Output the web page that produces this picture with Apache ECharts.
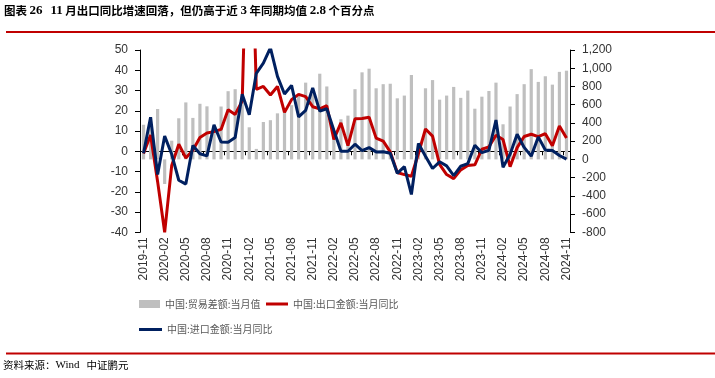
<!DOCTYPE html>
<html>
<head>
<meta charset="utf-8">
<script src="https://cdn.jsdelivr.net/npm/echarts@6/dist/echarts.min.js"></script>
<style>html,body{margin:0;padding:0;background:#fff;}#c{width:715px;height:378px;}</style>
</head>
<body>
<div id="c"></div>
<script>
// ---- data ----
const categories = [];
(function(){ let y=2019, m=11; for(let i=0;i<61;i++){ categories.push(y+'-'+(m<10?'0'+m:m)); m++; if(m>12){m=1;y++;} } })();

const tradeBalance = [380,465,553,-270,205,451,625,455,610,582,370,580,748,770,650,352,115,410,430,505,
  562,595,700,842,715,940,800,280,440,480,770,955,995,780,825,830,670,700,926,150,
  780,870,655,700,795,675,755,556,688,750,842,385,580,716,825,990,850,912,820,960,973];

const exportYoY = [-1.1,8.0,-15,-40.0,-7.0,3.5,-3.3,0.5,6.8,9.0,9.7,10.8,20.5,18.2,24.9,154.9,30.6,32.0,27.8,32.0,
  19.2,25.5,28.1,27.0,22.0,20.9,22.5,5.8,14.0,2.8,16.0,16.2,16.8,6.5,5.0,-0.3,-10.5,-11.5,-12.3,-1.1,
  11.0,7.5,-6.5,-11.5,-13.5,-9.2,-7.0,-6.7,1.0,2.2,7.9,5.8,-7.6,1.8,7.3,8.4,7.2,8.7,2.7,12.5,6.5];

const importYoY = [-1.0,16.8,-11.5,7.5,-1.5,-14.3,-16.2,2.8,-1.2,-2.3,13.0,4.6,4.5,6.8,28.2,18.0,38.5,43.5,51.1,37.0,
  28.3,32.5,17.0,20.2,31.3,19.8,21.0,10.4,0.0,0.0,3.5,0.3,1.8,-0.3,-0.2,-1.0,-10.9,-7.6,-21.3,3.8,
  -2.5,-8.5,-5.2,-7.2,-12.0,-7.4,-6.1,3.0,-0.7,0.5,15.4,-7.9,-1.5,8.4,1.9,-2.4,7.1,0.6,0.4,-2.1,-3.9];

const seriesNames = ['中国:贸易差额:当月值','中国:出口金额:当月同比','中国:进口金额:当月同比'];
const titleText = '{t|图表 }{n|26}{t|   }{n|11}{t| 月出口同比增速回落，但仍高于近 }{n|3}{t| 年同期均值 }{n|2.8}{t| 个百分点}';
const sourceText = '资料来源：{w|Wind}   中证鹏元';

// ---- chart ----
const chart = echarts.init(document.getElementById('c'), null, {renderer:'canvas'});
const axisFont = {fontFamily:'Liberation Sans', fontSize:12, color:'#333'};
function commas(v){ const s=String(Math.abs(v)); const r=s.replace(/\B(?=(\d{3})+(?!\d))/g, ','); return (v<0?'-':'')+r; }
const legendText = {fontFamily:'Noto Sans CJK SC', fontSize:10, color:'#595959'};

chart.setOption({
  animation:false,
  backgroundColor:'#fff',
  grid:{left:140, right:145, top:50, bottom:145.7, containLabel:false},
  legend:[
    {left:139, top:299, padding:0, itemWidth:21, itemHeight:8, itemGap:0, textStyle:legendText, data:[{name:seriesNames[0], icon:'rect'}], selectedMode:false},
    {left:266, top:299, padding:0, itemWidth:22, itemHeight:3, itemGap:0, textStyle:legendText, data:[{name:seriesNames[1], icon:'rect'}], selectedMode:false},
    {left:139, top:324.5, padding:0, itemWidth:23, itemHeight:3, itemGap:0, textStyle:legendText, data:[{name:seriesNames[2], icon:'rect'}], selectedMode:false}
  ],
  xAxis:[
    {type:'category', data:categories, boundaryGap:true, position:'bottom',
     axisLine:{show:false, onZero:false}, axisTick:{show:false},
     axisLabel:{interval:2, rotate:90, margin:5, fontFamily:'Liberation Sans', fontSize:12, color:'#333'},
     splitLine:{show:false}},
    {type:'category', data:categories, boundaryGap:true, position:'bottom',
     axisLine:{show:true, onZero:true, onZeroAxisIndex:0, lineStyle:{color:'#000', width:1}},
     axisTick:{show:true, interval:2, length:4, lineStyle:{color:'#000'}},
     axisLabel:{show:false}, splitLine:{show:false}}
  ],
  yAxis:[
    {type:'value', min:-40, max:50, interval:10, position:'left',
     axisLine:{show:true, lineStyle:{color:'#000', width:1}},
     axisTick:{show:true, length:5, lineStyle:{color:'#000'}},
     axisLabel:Object.assign({margin:12}, axisFont),
     splitLine:{show:false}},
    {type:'value', min:-800, max:1200, interval:200, position:'right',
     axisLine:{show:true, lineStyle:{color:'#000', width:1}},
     axisTick:{show:true, length:5, lineStyle:{color:'#000'}},
     axisLabel:Object.assign({margin:12, formatter:commas}, axisFont),
     splitLine:{show:false}}
  ],
  series:[
    {name:seriesNames[0], type:'bar', xAxisIndex:0, yAxisIndex:1, data:tradeBalance,
     barWidth:3.2, itemStyle:{color:'#bfbfbf'}, z:1},
    {name:seriesNames[1], type:'line', xAxisIndex:0, yAxisIndex:0, data:exportYoY,
     symbol:'none', clip:true, lineStyle:{color:'#c00000', width:3}, itemStyle:{color:'#c00000'}, z:3},
    {name:seriesNames[2], type:'line', xAxisIndex:0, yAxisIndex:0, data:importYoY,
     symbol:'none', clip:true, lineStyle:{color:'#002060', width:3}, itemStyle:{color:'#002060'}, z:4}
  ],
  graphic:[
    {type:'text', left:4, top:4, style:{text:titleText, rich:{
      t:{fontFamily:'Noto Sans CJK SC', fontSize:11.5, fontWeight:'bold', fill:'#000'},
      n:{fontFamily:'Liberation Serif', fontSize:13, fontWeight:'bold', fill:'#000'}
    }}},
    {type:'rect', shape:{x:6, y:31, width:709, height:2}, style:{fill:'#c00000'}},
    {type:'rect', shape:{x:6, y:352.5, width:709, height:2}, style:{fill:'#c00000'}},
    {type:'text', left:3, top:360, style:{text:sourceText, fontFamily:'Noto Sans CJK SC', fontSize:10.5, fill:'#000',
      rich:{w:{fontFamily:'Liberation Serif', fontSize:11, fill:'#000'}}}}
  ]
});
</script>
</body>
</html>
